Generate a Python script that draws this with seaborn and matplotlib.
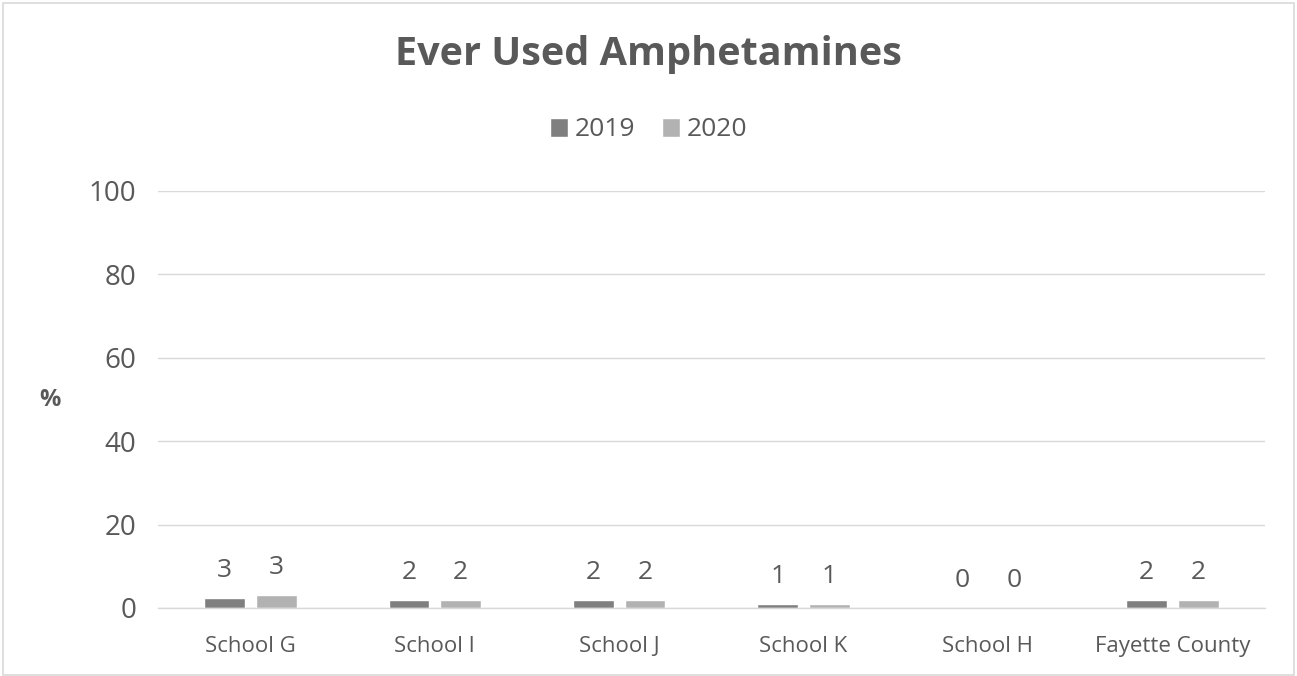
import matplotlib
matplotlib.use("Agg")
import matplotlib.pyplot as plt
import seaborn as sns
import pandas as pd
from matplotlib.patches import Rectangle

categories = ["School G", "School I", "School J", "School K", "School H", "Fayette County"]
years = ["2019", "2020"]
values_2019 = [2.4, 1.9, 1.9, 1.0, 0.0, 1.9]
values_2020 = [3.1, 1.9, 1.9, 1.0, 0.0, 1.9]
labels_2019 = ["3", "2", "2", "1", "0", "2"]
labels_2020 = ["3", "2", "2", "1", "0", "2"]
yticks = [0, 20, 40, 60, 80, 100]

df = pd.DataFrame({
    "category": categories * 2,
    "year": [years[0]] * len(categories) + [years[1]] * len(categories),
    "value": values_2019 + values_2020,
})

sns.set_theme(style="white")
plt.rcParams['font.family'] = ['Open Sans', 'DejaVu Sans']
txt = "#595959"

fig = plt.figure(figsize=(12.97, 6.76), dpi=100)
ax = fig.add_axes([0.122, 0.1006, 0.853, 0.6169])

palette = {"2019": "#7f7f7f", "2020": "#b2b2b2"}
sns.barplot(data=df, x="category", y="value", hue="year", order=categories,
            hue_order=years, palette=palette, width=0.56, gap=0.21,
            saturation=1, ax=ax, legend=True, errorbar=None)

ax.set_ylim(0, 100)
ax.set_xlim(-0.5, len(categories) - 0.5)
ax.set_yticks(yticks)
ax.set_yticklabels([str(t) for t in yticks], fontsize=20, color=txt)
ax.tick_params(axis="x", labelsize=16, colors=txt, length=0, pad=20)
ax.tick_params(axis="y", length=0, pad=16)
ax.set_xlabel("")
ax.set_ylabel("")
ax.grid(axis="y", color="#d9d9d9", linewidth=1)
ax.set_axisbelow(True)
for s in ["top", "right", "left"]:
    ax.spines[s].set_visible(False)
ax.spines["bottom"].set_color("#d9d9d9")
ax.spines["bottom"].set_linewidth(1)

for cont, labs in zip(ax.containers, [labels_2019, labels_2020]):
    ax.bar_label(cont, labels=labs, padding=11, fontsize=19, color=txt)

leg = ax.legend(loc="center", ncol=2, frameon=False, fontsize=19, labelcolor=txt,
                handlelength=0.7, handleheight=0.7, handletextpad=0.25, columnspacing=1.0)
leg.set_bbox_to_anchor((0.5, 1 - 130 / 676), transform=fig.transFigure)

fig.text(0.5, 1 - 55 / 676, "Ever Used Amphetamines", ha="center", va="center",
         fontsize=28.5, fontweight="bold", color=txt)
fig.text(50 / 1297, 1 - 400 / 676, "%", ha="center", va="center",
         fontsize=17, fontweight="bold", color=txt)

fig.patches.append(Rectangle((0.002, 0.002), 0.996, 0.994, transform=fig.transFigure,
                             fill=False, edgecolor="#d9d9d9", linewidth=1.2))

fig.savefig("out.png", dpi=100)
